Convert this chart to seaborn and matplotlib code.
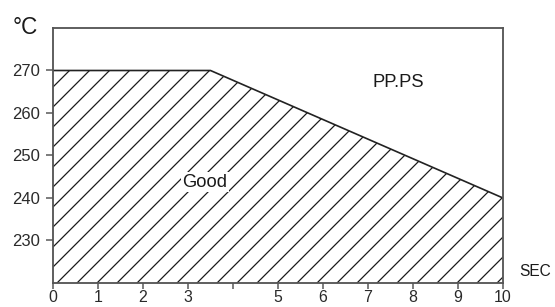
import numpy as np
import pandas as pd
import matplotlib
matplotlib.use("Agg")
import matplotlib.pyplot as plt
import seaborn as sns

# boundary of the "Good" moulding window (PP.PS)
time_sec = [0, 3.5, 10]
temp_c = [270, 270, 240]
x_ticks = [0, 1, 2, 3, 4, 5, 6, 7, 8, 9, 10]
x_labels = ['0', '1', '2', '3', '', '5', '6', '7', '8', '9', '10']
y_ticks = [230, 240, 250, 260, 270]

sns.set_style('white')
plt.rcParams['font.family'] = ['Liberation Sans', 'DejaVu Sans']
plt.rcParams['hatch.linewidth'] = 0.75
plt.rcParams['hatch.color'] = '#1a1a1a'

df = pd.DataFrame({'sec': time_sec, 'temp': temp_c})

fig = plt.figure(figsize=(555 / 120, 307 / 120), dpi=120)
ax = fig.add_axes([0.0955, 0.0782, 0.8108, 0.8306])

# hatched region below the boundary
ax.fill_between(df['sec'], 220, df['temp'], facecolor='none', edgecolor='#1a1a1a',
                hatch='//', linewidth=0)
sns.lineplot(data=df, x='sec', y='temp', color='#222222', linewidth=1.0, ax=ax)

ax.set_xlim(0, 10)
ax.set_ylim(220, 280)
ax.set_xticks(x_ticks)
ax.set_xticklabels(x_labels)
ax.set_yticks(y_ticks)
ax.set_xlabel('')
ax.set_ylabel('')

for s in ax.spines.values():
    s.set_visible(True)
    s.set_color('#555555')
    s.set_linewidth(1.1)

ax.tick_params(axis='both', direction='out', length=4, width=0.9, color='#555555',
               labelsize=10, labelcolor='#2a2a2a', bottom=True, left=True)
ax.tick_params(axis='x', length=3.5, pad=0.5, labelsize=9.5)
ax.tick_params(axis='y', pad=4)

ax.text(3.38, 243.7, 'Good', ha='center', va='center', fontsize=11, color='#1a1a1a',
        bbox=dict(facecolor='white', edgecolor='none', pad=1.0))
ax.text(7.67, 267.2, 'PP.PS', ha='center', va='center', fontsize=11, color='#1a1a1a')

fig.text(25 / 555, 1 - 27 / 307, '°C', ha='center', va='center', fontsize=13.5, color='#1a1a1a')
fig.text(535 / 555, 1 - 272 / 307, 'SEC', ha='center', va='center', fontsize=9.3, color='#1a1a1a')

fig.savefig('out.png', dpi=120)
